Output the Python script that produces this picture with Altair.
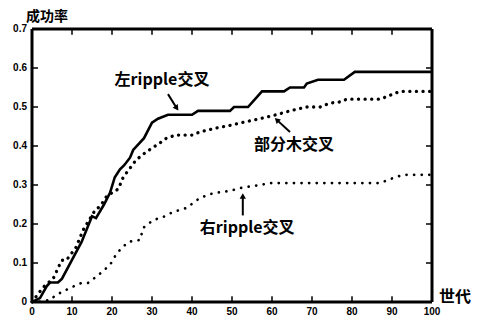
import altair as alt
import pandas as pd

# ---- data ----
left_x = [0, 2, 3.7, 4.5, 6.5, 7.5, 10, 12.4, 15, 16, 18, 19.5, 20.7, 22, 23, 24.5, 25.3, 28, 30, 31.5, 34, 36, 40, 41.5, 49.5, 50.5, 54, 57.5, 63, 64.5, 68, 68.7, 71.5, 78, 80.7, 100]
left_y = [0, 0.01, 0.041, 0.05, 0.05, 0.06, 0.108, 0.154, 0.22, 0.215, 0.25, 0.28, 0.32, 0.34, 0.35, 0.37, 0.39, 0.42, 0.46, 0.47, 0.48, 0.48, 0.48, 0.49, 0.49, 0.50, 0.50, 0.54, 0.54, 0.55, 0.55, 0.56, 0.57, 0.57, 0.59, 0.59]

sub_x = [0, 2.8, 5.3, 7.4, 8.6, 11, 12.8, 15.8, 17, 18.6, 20, 21.6, 22.8, 24.5, 26, 28.6, 32, 33.6, 36, 40, 42, 46, 50, 52, 57, 61, 64.5, 68.7, 72, 74.5, 77, 78.7, 87, 89.5, 92, 100]
sub_y = [0, 0.038, 0.06, 0.107, 0.107, 0.14, 0.185, 0.236, 0.245, 0.27, 0.28, 0.29, 0.32, 0.343, 0.364, 0.385, 0.408, 0.42, 0.428, 0.428, 0.436, 0.446, 0.454, 0.459, 0.47, 0.48, 0.49, 0.50, 0.50, 0.51, 0.513, 0.52, 0.52, 0.53, 0.54, 0.54]

right_x = [0, 1, 4.5, 6, 9.5, 12.4, 14, 16.6, 19.5, 21.2, 24, 27, 27.8, 30.3, 32.8, 35.3, 38.6, 42, 45.3, 49.5, 52, 53.7, 57, 59.5, 87, 90.3, 92.8, 100]
right_y = [0, 0, 0.005, 0.018, 0.036, 0.049, 0.049, 0.069, 0.095, 0.125, 0.154, 0.159, 0.19, 0.21, 0.218, 0.231, 0.241, 0.267, 0.279, 0.285, 0.292, 0.295, 0.30, 0.305, 0.305, 0.318, 0.326, 0.326]

x_ticks = [0, 10, 20, 30, 40, 50, 60, 70, 80, 90, 100]
y_ticks = [0, 0.1, 0.2, 0.3, 0.4, 0.5, 0.6, 0.7]
x_tick_labels = ["0", "10", "20", "30", "40", "50", "60", "70", "80", "90", "100"]
y_tick_labels = ["0", "0.1", "0.2", "0.3", "0.4", "0.5", "0.6", "0.7"]

labels = ["左ripple交叉", "部分木交叉", "右ripple交叉"]
label_x = [32.5, 65.5, 53.8]
label_y = [0.569, 0.402, 0.19]

arrow_x1 = [34.0, 64.5, 52.7]
arrow_y1 = [0.533, 0.436, 0.222]
arrow_x2 = [36.2, 61.2, 52.7]
arrow_y2 = [0.497, 0.467, 0.272]
arrow_angle = [145, 313, 0]

X_MIN, X_MAX = 0, 100
Y_MIN, Y_MAX = 0, 0.7

FONT = "Liberation Sans"
CJK = "Noto Sans CJK SC"

xs = alt.Scale(domain=[X_MIN, X_MAX], nice=False, zero=False)
ys = alt.Scale(domain=[Y_MIN, Y_MAX], nice=False, zero=False)


def X(f):
    return alt.X(f, type="quantitative", scale=xs, axis=None)


def Y(f):
    return alt.Y(f, type="quantitative", scale=ys, axis=None)


df_left = pd.DataFrame({"x": left_x, "y": left_y})
df_sub = pd.DataFrame({"x": sub_x, "y": sub_y})
df_right = pd.DataFrame({"x": right_x, "y": right_y})

# frame (box) segments
df_frame = pd.DataFrame({
    "x1": [X_MIN, X_MIN, X_MIN, X_MAX],
    "y1": [Y_MIN, Y_MAX, Y_MIN, Y_MIN],
    "x2": [X_MAX, X_MAX, X_MIN, X_MAX],
    "y2": [Y_MIN, Y_MAX, Y_MAX, Y_MAX],
})
frame = alt.Chart(df_frame).mark_rule(color="black", strokeWidth=3).encode(
    x=X("x1"), y=Y("y1"), x2="x2:Q", y2="y2:Q")

# inward tick segments on all four sides
tx = x_ticks[1:-1]
ty = y_ticks[1:-1]
dy_t = 0.015
dx_t = 1.5
df_ticks = pd.DataFrame({
    "x1": tx + tx + [X_MIN] * len(ty) + [X_MAX] * len(ty),
    "x2": tx + tx + [X_MIN + dx_t] * len(ty) + [X_MAX - dx_t] * len(ty),
    "y1": [Y_MIN] * len(tx) + [Y_MAX] * len(tx) + ty + ty,
    "y2": [Y_MIN + dy_t] * len(tx) + [Y_MAX - dy_t] * len(tx) + ty + ty,
})
ticks = alt.Chart(df_ticks).mark_rule(color="black", strokeWidth=1.5).encode(
    x=X("x1"), y=Y("y1"), x2="x2:Q", y2="y2:Q")

# tick labels
df_xl = pd.DataFrame({"x": x_ticks, "y": [Y_MIN] * len(x_ticks), "t": x_tick_labels})
df_yl = pd.DataFrame({"x": [X_MIN] * len(y_ticks), "y": y_ticks, "t": y_tick_labels})
xlab = alt.Chart(df_xl).mark_text(font=FONT, fontWeight="bold", fontSize=10, color="black",
                                  align="center", baseline="middle", dy=10).encode(
    x=X("x"), y=Y("y"), text="t:N")
ylab = alt.Chart(df_yl).mark_text(font=FONT, fontWeight="bold", fontSize=10, color="black",
                                  align="right", baseline="middle", dx=-5).encode(
    x=X("x"), y=Y("y"), text="t:N")

# axis titles
df_yt = pd.DataFrame({"x": [X_MIN], "y": [Y_MAX], "t": ["成功率"]})
df_xt = pd.DataFrame({"x": [X_MAX], "y": [Y_MIN], "t": ["世代"]})
ytitle = alt.Chart(df_yt).mark_text(font=CJK, fontSize=14, fontWeight="bold", color="black",
                                    align="center", baseline="middle", dx=15, dy=-12).encode(
    x=X("x"), y=Y("y"), text="t:N")
xtitle = alt.Chart(df_xt).mark_text(font=CJK, fontSize=16, fontWeight="bold", color="black",
                                    align="left", baseline="middle", dx=7, dy=-5).encode(
    x=X("x"), y=Y("y"), text="t:N")

# series
line_left = alt.Chart(df_left).mark_line(color="black", strokeWidth=2.6).encode(
    x=X("x"), y=Y("y"), order="x:Q")
line_sub = alt.Chart(df_sub).mark_line(color="black", strokeWidth=3.3, strokeDash=[0.1, 6.5],
                                       strokeCap="round").encode(
    x=X("x"), y=Y("y"), order="x:Q")
line_right = alt.Chart(df_right).mark_line(color="black", strokeWidth=2.7, strokeDash=[0.1, 7.5],
                                           strokeCap="round").encode(
    x=X("x"), y=Y("y"), order="x:Q")

# annotations
df_lab = pd.DataFrame({"t": labels, "x": label_x, "y": label_y})
texts = alt.Chart(df_lab).mark_text(font=CJK, fontSize=16, fontWeight="bold", color="black",
                                    align="center", baseline="middle").encode(
    x=X("x"), y=Y("y"), text="t:N")

df_arr = pd.DataFrame({"x1": arrow_x1, "y1": arrow_y1, "x2": arrow_x2, "y2": arrow_y2, "a": arrow_angle})
arr_lines = alt.Chart(df_arr).mark_rule(color="black", strokeWidth=2).encode(
    x=X("x1"), y=Y("y1"), x2="x2:Q", y2="y2:Q")
arr_heads = alt.Chart(df_arr).mark_point(shape="triangle-up", filled=True, color="black", size=40,
                                         opacity=1).encode(
    x=X("x2"), y=Y("y2"), angle=alt.Angle("a:Q", scale=None))

chart = alt.layer(line_right, line_sub, line_left, frame, ticks, xlab, ylab, ytitle, xtitle,
                  texts, arr_lines, arr_heads).properties(
    width=400, height=273,
    autosize=alt.AutoSizeParams(type="none"),
    padding={"left": 24, "top": 21, "right": 40, "bottom": 14},
).configure_view(strokeWidth=0)

chart.save("out.html", embed_options={"renderer": "svg", "actions": False})
